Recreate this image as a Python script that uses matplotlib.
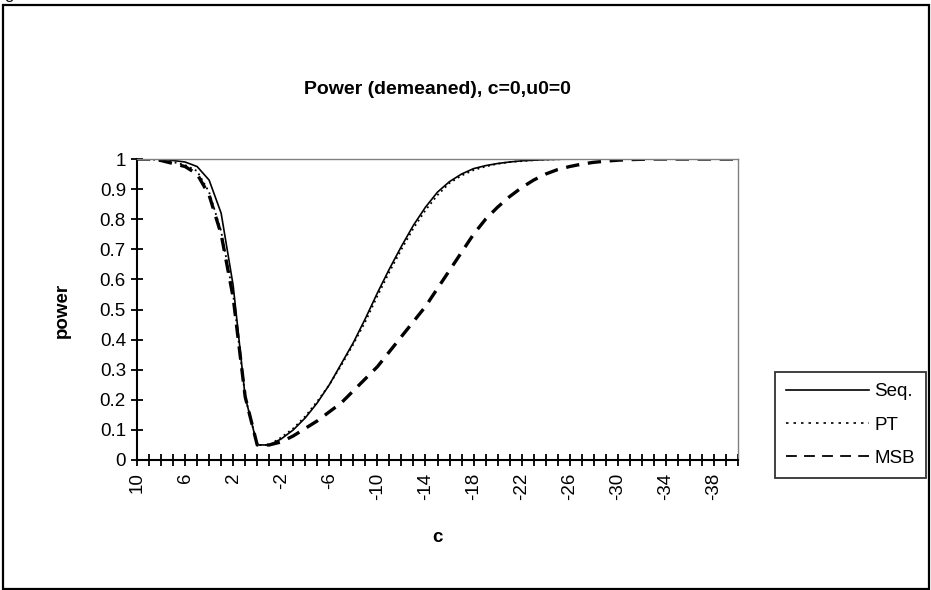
import matplotlib
matplotlib.use("Agg")
import matplotlib.pyplot as plt
from matplotlib.lines import Line2D
from matplotlib.patches import Rectangle

# ── Data ───────────────────────────────────────────────────────────────────────
c_values = list(range(10, -41, -1))          # categories 10 ... -40
tick_labels = [str(c) if (10 - c) % 4 == 0 else "" for c in c_values]

seq = [1.0, 1.0, 1.0, 0.995, 0.99, 0.975, 0.93, 0.82, 0.58, 0.21,
       0.05, 0.05, 0.07, 0.10, 0.14, 0.19, 0.25, 0.32, 0.39, 0.47,
       0.555, 0.635, 0.71, 0.78, 0.84, 0.89, 0.925, 0.95, 0.968, 0.978,
       0.985, 0.99, 0.994, 0.996, 0.998, 0.999, 1.0, 1.0, 1.0, 1.0,
       1.0, 1.0, 1.0, 1.0, 1.0, 1.0, 1.0, 1.0, 1.0, 1.0, 1.0]

pt = [1.0, 1.0, 0.995, 0.99, 0.98, 0.96, 0.89, 0.76, 0.55, 0.21,
      0.05, 0.05, 0.075, 0.105, 0.145, 0.195, 0.25, 0.315, 0.385, 0.46,
      0.545, 0.625, 0.70, 0.77, 0.83, 0.88, 0.92, 0.945, 0.963, 0.975,
      0.984, 0.99, 0.993, 0.996, 0.998, 0.999, 1.0, 1.0, 1.0, 1.0,
      1.0, 1.0, 1.0, 1.0, 1.0, 1.0, 1.0, 1.0, 1.0, 1.0, 1.0]

msb = [1.0, 1.0, 0.995, 0.985, 0.975, 0.95, 0.88, 0.75, 0.54, 0.21,
       0.05, 0.05, 0.06, 0.08, 0.105, 0.13, 0.16, 0.19, 0.23, 0.27,
       0.31, 0.36, 0.41, 0.46, 0.51, 0.57, 0.63, 0.69, 0.75, 0.80,
       0.84, 0.875, 0.905, 0.93, 0.95, 0.965, 0.975, 0.983, 0.989, 0.993,
       0.996, 0.998, 0.999, 1.0, 1.0, 1.0, 1.0, 1.0, 1.0, 1.0, 1.0]

series = [("Seq.", seq), ("PT", pt), ("MSB", msb)]

# ── Style ──────────────────────────────────────────────────────────────────────
plt.rcParams["font.family"] = ["Liberation Sans", "DejaVu Sans"]
FS = 13.5

fig = plt.figure(figsize=(9.31, 5.90), dpi=100)
fig.patch.set_facecolor("white")

# outer chart frame
fig.patches.append(Rectangle((3 / 931, 1 / 590), 926 / 931, 584 / 590,
                             transform=fig.transFigure, fill=False,
                             edgecolor="black", linewidth=1.6))
# cut-off caption fragment at the very top
fig.text(4 / 931, 1 + 1 / 590, "g", fontsize=12, va="baseline", ha="left")

ax = fig.add_axes([137 / 931, 1 - 460 / 590, 601 / 931, 301 / 590])

x = list(range(len(c_values)))
ax.plot(x, seq, color="black", lw=1.2, solid_joinstyle="miter")
ax.plot(x, pt, color="black", lw=1.3, linestyle=(0, (1, 2)))
ax.plot(x, msb, color="black", lw=2.4, linestyle=(0, (4, 2.6)))

ax.set_xlim(0, len(c_values) - 1)
ax.set_ylim(0, 1)
ax.set_xticks(x)
ax.set_xticklabels(tick_labels, rotation=90, fontsize=FS)
yt = [i / 10 for i in range(11)]
ax.set_yticks(yt)
ax.set_yticklabels(["0" if v == 0 else ("1" if v == 1 else f"{v:.1f}") for v in yt],
                   fontsize=FS)
ax.tick_params(axis="both", direction="inout", length=8, width=1.3, color="black")
ax.tick_params(axis="x", pad=5)
ax.tick_params(axis="y", pad=4)

for side in ("left", "bottom"):
    ax.spines[side].set_color("black")
    ax.spines[side].set_linewidth(1.5)
for side in ("top", "right"):
    ax.spines[side].set_color("#808080")
    ax.spines[side].set_linewidth(1.0)

fig.text(437 / 931, 1 - 89 / 590, "Power (demeaned), c=0,u0=0",
         fontsize=14, fontweight="bold", ha="center", va="center")
fig.text(62 / 931, 1 - 310 / 590, "power", fontsize=FS, fontweight="bold",
         rotation=90, ha="center", va="center")
fig.text(437 / 931, 1 - 538 / 590, "c", fontsize=FS, fontweight="bold",
         ha="center", va="center")

handles = [Line2D([], [], color="black", lw=1.2),
           Line2D([], [], color="black", lw=1.2, linestyle=(0, (1.5, 3))),
           Line2D([], [], color="black", lw=1.3, linestyle=(0, (6, 4)))]
leg = fig.legend(handles, [s[0] for s in series], loc="center",
                 bbox_to_anchor=(850.5 / 931, 1 - 425 / 590),
                 fontsize=FS, frameon=True, fancybox=False, handlelength=4.4,
                 handletextpad=0.3, labelspacing=0.85, borderpad=0.6,
                 borderaxespad=0)
leg.get_frame().set_edgecolor("black")
leg.get_frame().set_linewidth(1.3)

fig.savefig("out.png", dpi=100, facecolor="white")
